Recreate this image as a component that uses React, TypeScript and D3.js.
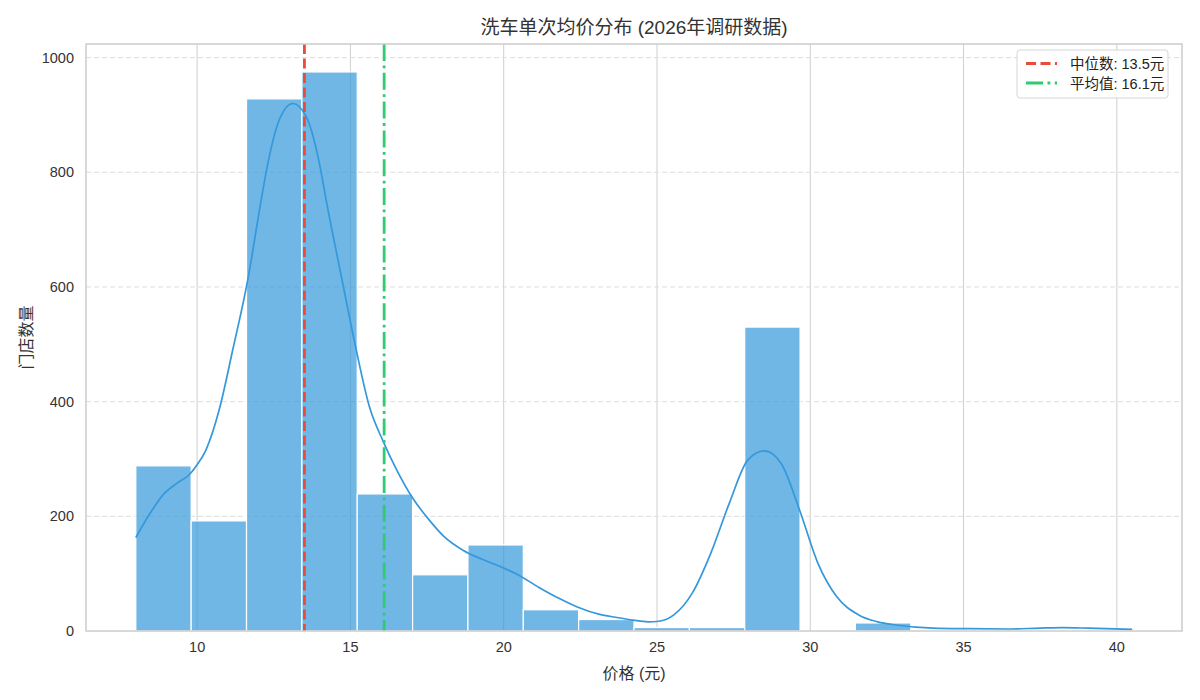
import React from 'react';
import * as d3 from 'd3';

// histogram: 18 equal bins from 8.0 to 40.5
const binStart = 8.0;
const binEnd = 40.5;
const binCounts = [288, 192, 928, 975, 239, 98, 150, 37, 20, 6, 6, 530, 0, 14, 1, 0, 1, 2];

// kde curve (price, scaled count)
const kdeX = [8.0, 8.45, 8.88, 9.35, 9.75, 10.0, 10.29, 10.73, 11.16, 11.65, 12.09, 12.25, 12.69, 13.12, 13.56, 13.99, 14.21, 14.75, 15.19, 15.62, 16.05, 16.5, 17.04, 17.58, 18.03, 18.67, 19.3, 19.9, 20.4, 21.15, 21.8, 22.4, 23.13, 23.65, 24.22, 24.7, 25.06, 25.55, 26.15, 26.75, 27.36, 27.96, 28.5, 29.05, 29.65, 30.25, 30.86, 31.58, 32.2, 32.79, 34.0, 35.2, 36.4, 37.5, 38.22, 39.06, 40.5];
const kdeY = [163, 204, 237, 258, 273, 290, 316, 388, 490, 612, 752, 800, 893, 920, 897, 815, 751, 606, 490, 391, 333, 282, 231, 193, 166, 141, 125, 112, 100, 76, 57, 42, 29, 24, 19, 16, 17, 28, 66, 135, 223, 298, 314, 292, 211, 118, 60, 28, 16, 10.5, 5, 4, 3.5, 5, 5.8, 5, 3];

const medianValue = 13.5;
const meanValue = 16.1;

const xTicks = [10, 15, 20, 25, 30, 35, 40];
const yTicks = [0, 200, 400, 600, 800, 1000];

const titleText = '洗车单次均价分布 (2026年调研数据)';
const xLabel = '价格 (元)';
const yLabel = '门店数量';
const legendLabels = ['中位数: 13.5元', '平均值: 16.1元'];

const W = 1200;
const H = 700;
const margin = { left: 86, right: 18, top: 44, bottom: 69 };
const FONT = '"Liberation Sans", Arial, "Noto Sans CJK SC", sans-serif';

export default function App() {
    const plotW = W - margin.left - margin.right;
    const plotH = H - margin.top - margin.bottom;

    const span = binEnd - binStart;
    const xScale = d3.scaleLinear()
        .domain([binStart - span * 0.05, binEnd + span * 0.05])
        .range([margin.left, margin.left + plotW]);
    const yScale = d3.scaleLinear()
        .domain([0, (d3.max(binCounts) as number) * 1.05])
        .range([margin.top + plotH, margin.top]);

    const binW = span / binCounts.length;
    const bins = binCounts.map((c, i) => ({ x0: binStart + i * binW, x1: binStart + (i + 1) * binW, c }));

    const kdeLine = d3.line<number>()
        .x((d, i) => xScale(kdeX[i]))
        .y(d => yScale(d))
        .curve(d3.curveMonotoneX);

    const top = margin.top;
    const bottom = margin.top + plotH;
    const left = margin.left;
    const right = margin.left + plotW;

    return (
        <svg width={W} height={H} style={{ position: 'absolute', left: 0, top: 0, background: '#fff' }} fontFamily={FONT}>
            <rect x={0} y={0} width={W} height={H} fill="#fff" />

            {/* grid */}
            {xTicks.map(t => (
                <line key={'gx' + t} x1={xScale(t)} x2={xScale(t)} y1={top} y2={bottom} stroke="#cfcfcf" strokeWidth={1} />
            ))}
            {yTicks.filter(t => t > 0).map(t => (
                <line key={'gy' + t} x1={left} x2={right} y1={yScale(t)} y2={yScale(t)} stroke="#dedede" strokeWidth={1} strokeDasharray="5,3" />
            ))}

            {/* bars */}
            {bins.map((b, i) => (
                b.c > 0 ? (
                    <rect key={'b' + i}
                        x={xScale(b.x0)}
                        y={yScale(b.c)}
                        width={xScale(b.x1) - xScale(b.x0)}
                        height={yScale(0) - yScale(b.c)}
                        fill="#3498db" fillOpacity={0.7}
                        stroke="#fff" strokeWidth={1.2} />
                ) : null
            ))}

            {/* kde */}
            <path d={kdeLine(kdeY) || ''} fill="none" stroke="#3498db" strokeWidth={1.7} />

            {/* median / mean */}
            <line x1={xScale(medianValue)} x2={xScale(medianValue)} y1={top} y2={bottom} stroke="#e74c3c" strokeWidth={2.8} strokeDasharray="10,4.5" />
            <line x1={xScale(meanValue)} x2={xScale(meanValue)} y1={top} y2={bottom} stroke="#2ecc71" strokeWidth={2.8} strokeDasharray="17,4.5,2.8,4.5" />

            {/* frame */}
            <rect x={left} y={top} width={plotW} height={plotH} fill="none" stroke="#cccccc" strokeWidth={1.5} />

            {/* x ticks */}
            {xTicks.map(t => (
                <text key={'tx' + t} x={xScale(t)} y={bottom + 21} textAnchor="middle" fontSize={14.5} fill="#333">{t}</text>
            ))}
            {/* y ticks */}
            {yTicks.map(t => (
                <text key={'ty' + t} x={left - 12} y={yScale(t) + 5} textAnchor="end" fontSize={14.5} fill="#333">{t}</text>
            ))}

            {/* labels */}
            <text x={(left + right) / 2} y={679} textAnchor="middle" fontSize={16} fill="#333">{xLabel}</text>
            <text transform={`translate(32, ${(top + bottom) / 2}) rotate(-90)`} textAnchor="middle" fontSize={16} fill="#333">{yLabel}</text>
            <text x={(left + right) / 2} y={34} textAnchor="middle" fontSize={19} fill="#333">{titleText}</text>

            {/* legend */}
            <g transform="translate(1017, 50)">
                <rect x={0} y={0} width={151} height={48} rx={3} fill="#fff" fillOpacity={0.85} stroke="#d6d6d6" strokeWidth={1} />
                <line x1={9} x2={40} y1={13.5} y2={13.5} stroke="#e74c3c" strokeWidth={2.8} strokeDasharray="10,4.5" />
                <text x={53} y={19} fontSize={14.5} fill="#222">{legendLabels[0]}</text>
                <line x1={9} x2={40} y1={33} y2={33} stroke="#2ecc71" strokeWidth={2.8} strokeDasharray="17,4.5,2.8,4.5" />
                <text x={53} y={38.5} fontSize={14.5} fill="#222">{legendLabels[1]}</text>
            </g>
        </svg>
    );
}
